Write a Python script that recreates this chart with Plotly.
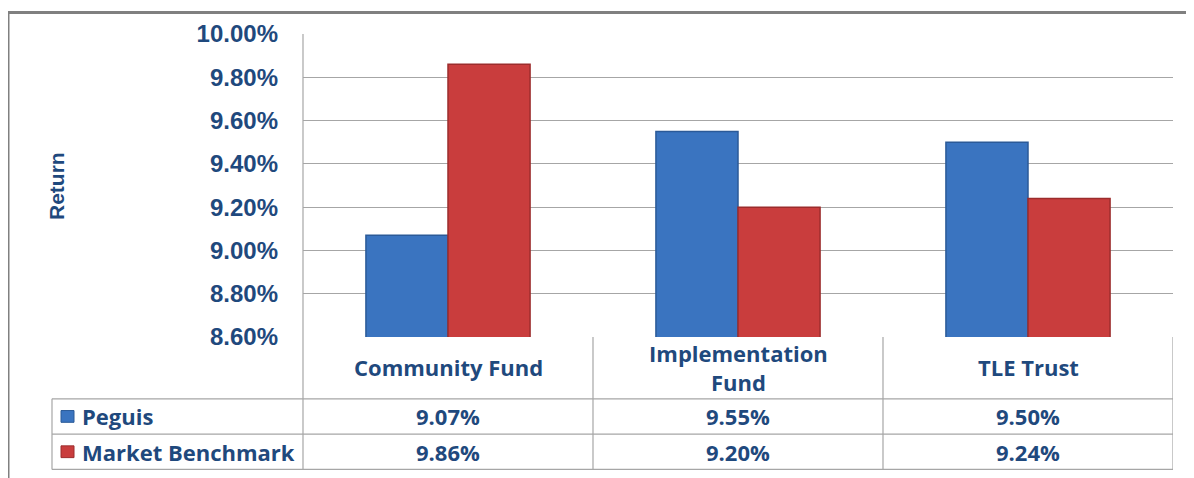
import plotly.graph_objects as go

categories = ["Community Fund", "Implementation<br>Fund", "TLE Trust"]
series_names = ["Peguis", "Market Benchmark"]
peguis = [9.07, 9.55, 9.50]
benchmark = [9.86, 9.20, 9.24]
series_values = [peguis, benchmark]
series_colors = ["#3a74c0", "#c93d3d"]
series_edges = ["#2b5a98", "#9c2c2c"]
y_ticks = [8.6, 8.8, 9.0, 9.2, 9.4, 9.6, 9.8, 10.0]
y_tick_text = [f"{v:.2f}%" for v in y_ticks]

OFF = 8  # page body margin (figure starts at screen x=8, y=8)
W, H = 1194 - OFF, 478 - OFF
L, R, T, B = 303 - OFF, 21, 28 - OFF, 141
PW, PH = W - L - R, H - T - B
TXT = "#1F497D"
GRID = "#a6a6a6"


def px(x):
    # screen x pixel -> paper
    return (x - OFF - L) / PW


def py(y):
    # screen y pixel -> paper
    return (H - B - (y - OFF)) / PH


fig = go.Figure()
for name, vals, col, edge in zip(series_names, series_values, series_colors, series_edges):
    fig.add_trace(go.Bar(
        x=list(range(len(categories))), y=vals, name=name,
        marker=dict(color=col, line=dict(color=edge, width=1.5)),
        showlegend=False,
    ))

shapes = []
ann = []
shapes.append(dict(type="line", xref="paper", yref="paper", x0=px(303), x1=px(303), y0=1, y1=py(472),
                   line=dict(color=GRID, width=1.2)))
for yy in [400, 436, 472]:
    shapes.append(dict(type="line", xref="paper", yref="paper", x0=px(52), x1=1, y0=py(yy), y1=py(yy),
                       line=dict(color=GRID, width=1.2)))
shapes.append(dict(type="line", xref="paper", yref="paper", x0=px(52), x1=px(52), y0=py(400), y1=py(472),
                   line=dict(color=GRID, width=1.2)))
for i in range(len(categories)):
    xe = i + 0.5
    shapes.append(dict(type="line", xref="x", yref="paper", x0=xe, x1=xe, y0=0, y1=py(472),
                       line=dict(color=GRID, width=1.2)))
# outer frame
shapes.append(dict(type="line", xref="paper", yref="paper", x0=px(8), x1=px(8), y0=py(6), y1=py(490),
                   line=dict(color="#808080", width=3)))
shapes.append(dict(type="line", xref="paper", yref="paper", x0=px(8), x1=px(1200), y0=py(6), y1=py(6),
                   line=dict(color="#808080", width=3)))

font_tbl = dict(family="Open Sans", size=22, color=TXT, weight="bold")
for i, c in enumerate(categories):
    ann.append(dict(x=i, y=py(368), xref="x", yref="paper", text=c, showarrow=False, font=font_tbl,
                    xanchor="center", yanchor="middle"))
row_centers = [418, 454]
for r, (name, vals, col, edge) in enumerate(zip(series_names, series_values, series_colors, series_edges)):
    yc = row_centers[r]
    shapes.append(dict(type="rect", xref="paper", yref="paper", x0=px(61), x1=px(74),
                       y0=py(yc - 6), y1=py(yc + 6), fillcolor=col, line=dict(color=edge, width=1)))
    ann.append(dict(x=px(80), y=py(yc), xref="paper", yref="paper", text=name, showarrow=False,
                    font=font_tbl, xanchor="left", yanchor="middle"))
    for i, v in enumerate(vals):
        ann.append(dict(x=i, y=py(yc), xref="x", yref="paper", text=f"{v:.2f}%", showarrow=False,
                        font=font_tbl, xanchor="center", yanchor="middle"))
ann.append(dict(x=px(57), y=py(183), xref="paper", yref="paper", text="Return", textangle=-90,
                showarrow=False, font=dict(family="Liberation Sans", size=21, color=TXT, weight="bold"),
                xanchor="center", yanchor="middle"))

fig.update_layout(
    width=W, height=H,
    margin=dict(l=L, r=R, t=T, b=B, pad=0),
    paper_bgcolor="white", plot_bgcolor="white",
    barmode="group", bargap=0.434, bargroupgap=0,
    shapes=shapes, annotations=ann,
    xaxis=dict(range=[-0.5, len(categories) - 0.5], showticklabels=False, showgrid=False,
               zeroline=False, showline=False, fixedrange=True),
    yaxis=dict(range=[y_ticks[0], y_ticks[-1]], tickmode="array", tickvals=y_ticks, ticktext=y_tick_text,
               showgrid=True, gridcolor=GRID, gridwidth=1.2, zeroline=False, showline=False,
               tickfont=dict(family="Liberation Sans", size=24, color=TXT, weight="bold"),
               ticklabelstandoff=24, fixedrange=True),
    showlegend=False,
)

fig.write_html("out.html")
